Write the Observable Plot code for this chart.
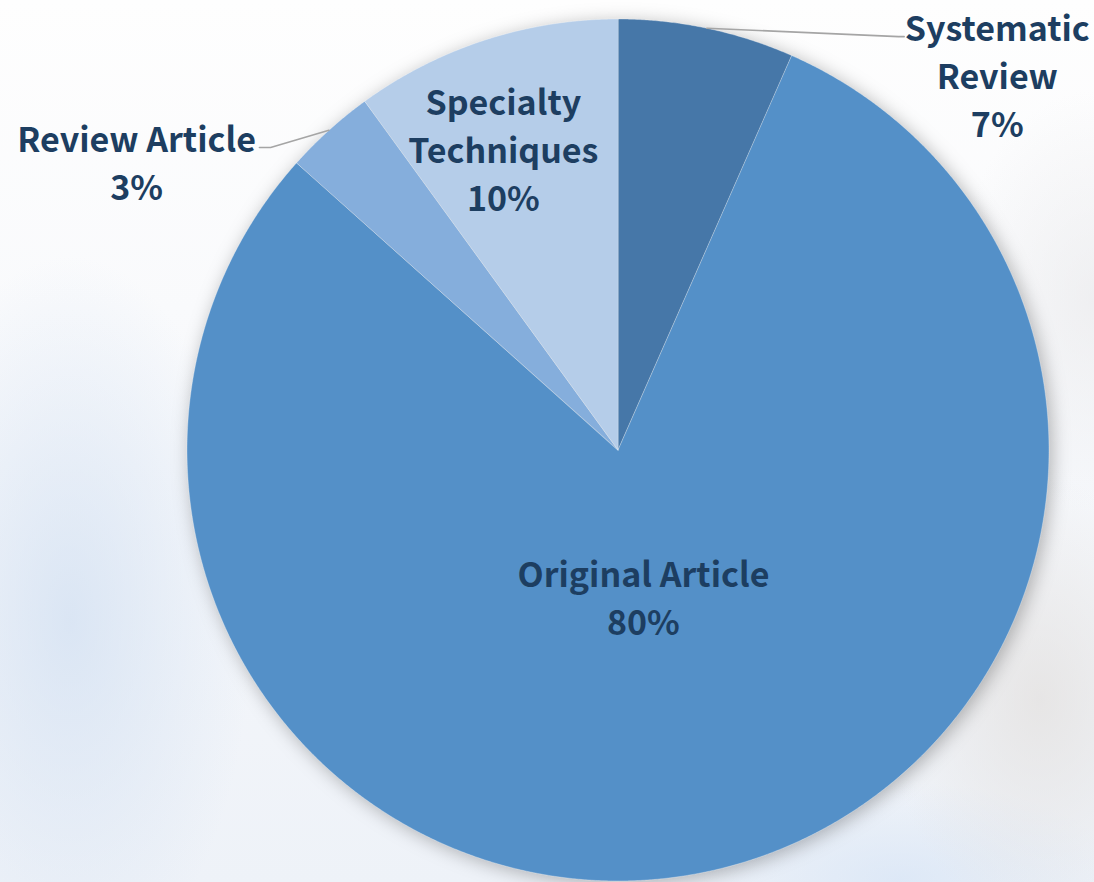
<!DOCTYPE html>
<html>
<head>
<meta charset="utf-8">
<script src="https://cdn.jsdelivr.net/npm/d3@7"></script>
<script src="https://cdn.jsdelivr.net/npm/@observablehq/plot@0.6"></script>
<style>
  html, body { margin: 0; padding: 0; }
  body {
    width: 1094px; height: 882px; overflow: hidden;
    background:
      radial-gradient(ellipse 260px 520px at 70px 620px, rgba(210,224,242,0.75), rgba(210,224,242,0) 70%),
      radial-gradient(ellipse 220px 320px at 1040px 700px, rgba(226,223,221,0.7), rgba(226,223,221,0) 70%),
      radial-gradient(ellipse 320px 140px at 900px 880px, rgba(214,228,246,0.7), rgba(214,228,246,0) 70%),
      radial-gradient(ellipse 200px 300px at 1094px 300px, rgba(232,232,234,0.6), rgba(232,232,234,0) 70%),
      linear-gradient(180deg, #fefefe 0%, #f9fafc 35%, #eef2f8 100%);
  }
  #chart svg { display: block; }
</style>
</head>
<body>
<div id="chart"></div>
<script>
// ---- data ----
const categories = ["Systematic Review", "Original Article", "Review Article", "Specialty Techniques"];
const shares = [6.6, 80.0, 3.4, 10.0];
const percentLabels = ["7%", "80%", "3%", "10%"];
const labelNames = ["Systematic\nReview", "Original Article", "Review Article", "Specialty\nTechniques"];
const colors = ["#4677A8", "#5490C8", "#85AEDC", "#B5CDE9"];

// label placement (data units of the unit-circle scales)
const labelX = [0.880, 0.059, -1.117, -0.266];
const labelY = [0.873, -0.338, 0.671, 0.702];
// leader elbows for outside labels (null = label inside slice)
const leaderElbow = [[0.651, 0.959], null, [-0.806, 0.702], null];
const leaderEnd = [[0.664, 0.959], null, [-0.832, 0.702], null];

// ---- geometry from d3.pie ----
const arcs = d3.pie().sort(null).startAngle(0).endAngle(2 * Math.PI)(shares);
const slicePts = [];
arcs.forEach((a, i) => {
  const cat = categories[i];
  slicePts.push({cat, x: 0, y: 0});
  const n = Math.max(2, Math.ceil((a.endAngle - a.startAngle) / (Math.PI / 720)));
  for (let k = 0; k <= n; ++k) {
    const t = a.startAngle + (a.endAngle - a.startAngle) * k / n;
    slicePts.push({cat, x: Math.sin(t), y: Math.cos(t)});
  }
});

const leaderPts = [];
arcs.forEach((a, i) => {
  if (!leaderElbow[i]) return;
  const m = (a.startAngle + a.endAngle) / 2;
  const cat = categories[i];
  leaderPts.push({cat, x: Math.sin(m), y: Math.cos(m)});
  leaderPts.push({cat, x: leaderElbow[i][0], y: leaderElbow[i][1]});
  leaderPts.push({cat, x: leaderEnd[i][0], y: leaderEnd[i][1]});
});

const labels = categories.map((c, i) => ({
  cat: c, x: labelX[i], y: labelY[i], text: labelNames[i] + "\n" + percentLabels[i]
}));

const chart = Plot.plot({
  width: 1094,
  height: 882,
  margin: 0,
  style: {background: "transparent"},
  x: {domain: [-1, 1], range: [186.5, 1048.5], axis: null},
  y: {domain: [-1, 1], range: [880.5, 18.5], axis: null},
  color: {domain: categories, range: colors},
  marks: [
    Plot.line(slicePts, {x: "x", y: "y", z: "cat", fill: "cat", stroke: "white", strokeOpacity: 0.3, strokeWidth: 1, curve: "linear-closed"}),
    Plot.line(leaderPts, {x: "x", y: "y", z: "cat", stroke: "#A5A5A5", strokeWidth: 1.6}),
    Plot.text(labels, {x: "x", y: "y", text: "text", fill: "#1D3E61", fontSize: 34, fontWeight: 600, lineHeight: 1.41, fontFamily: "'Noto Sans CJK SC', 'Noto Sans', sans-serif"})
  ]
});
const lineGroups = chart.querySelectorAll('g[aria-label="line"]');
if (lineGroups.length) lineGroups[0].style.filter = "drop-shadow(3px 3px 9px rgba(0,0,0,0.28))";
document.getElementById("chart").appendChild(chart);
</script>
</body>
</html>
